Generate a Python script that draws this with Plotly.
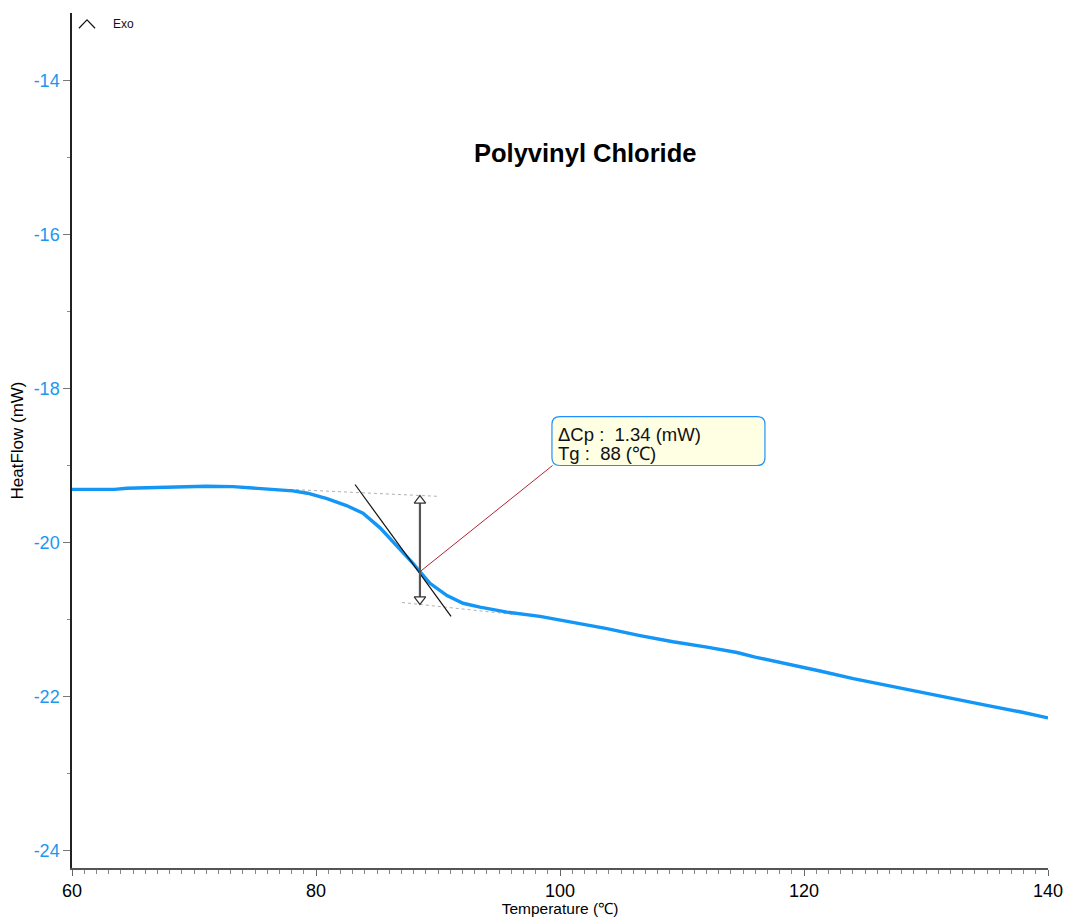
import plotly.graph_objects as go

# ---- data ----
temperature = [60, 63.5, 64.5, 66, 68.3, 71, 73.2, 75.4, 78.1, 79.3, 80.9, 82.5, 83.85,
               85.25, 86.64, 87.95, 88.52, 89.34, 90.74, 92.05, 93.44, 95.66, 98.36,
               101.07, 103.85, 106.56, 109.26, 112.05, 114.51, 116, 118.58, 121.31,
               124.04, 126.78, 129.51, 132.24, 134.98, 137.7, 140]
heatflow = [-19.31, -19.31, -19.295, -19.29, -19.28, -19.27, -19.275, -19.30, -19.33,
            -19.36, -19.43, -19.52, -19.62, -19.81, -20.04, -20.27, -20.38, -20.53,
            -20.69, -20.79, -20.84, -20.905, -20.96, -21.035, -21.12, -21.21, -21.29,
            -21.36, -21.43, -21.49, -21.575, -21.67, -21.77, -21.857, -21.944, -22.04,
            -22.117, -22.2, -22.28]

# analysis construction (data units)
tangent_x = [83.2, 91.07]
tangent_y = [-19.247, -20.96]
upper_base_x = [77.87, 89.92]
upper_base_y = [-19.31, -19.40]
lower_base_x = [87.05, 96.15]
lower_base_y = [-20.78, -20.935]
tg_x = 88.52
tg_y = -20.38
step_top = -19.455
step_bottom = -20.74
delta_cp = 1.34
tg_value = 88
box_x = [99.34, 116.8]
box_y = [-19.0, -18.364]
result_lines = [f"ΔCp :  {delta_cp:.2f} (mW)", f"Tg :  {tg_value} (℃)"]
result_line_y = [-18.60, -18.845]

x_ticks = list(range(60, 141, 5))
x_labels = [str(v) if v % 20 == 0 else "" for v in x_ticks]
y_ticks = [-24, -22, -20, -18, -16, -14]
y_labels = ["-24", "-22", "-20", "-18", "-16", "-14"]

FONT = "Arial, Liberation Sans, sans-serif"
BLUE = "#1396F5"

fig = go.Figure()

# dotted baselines
for bx, by in [(upper_base_x, upper_base_y), (lower_base_x, lower_base_y)]:
    fig.add_trace(go.Scatter(x=bx, y=by, mode="lines",
                             line=dict(color="#b0b0b0", width=1, dash="dot"),
                             hoverinfo="skip", showlegend=False))

# main curve
fig.add_trace(go.Scatter(x=temperature, y=heatflow, mode="lines",
                         line=dict(color=BLUE, width=3.4),
                         showlegend=False))

# tangent line
fig.add_trace(go.Scatter(x=tangent_x, y=tangent_y, mode="lines",
                         line=dict(color="#111111", width=1.2),
                         hoverinfo="skip", showlegend=False))

# step arrow
fig.add_trace(go.Scatter(x=[tg_x, tg_x], y=[step_top, step_bottom], mode="lines",
                         line=dict(color="#555555", width=2.2),
                         hoverinfo="skip", showlegend=False))
fig.add_trace(go.Scatter(x=[tg_x, tg_x], y=[step_top, step_bottom], mode="markers",
                         marker=dict(symbol=["triangle-up", "triangle-down"], size=10,
                                     color="white", line=dict(color="#333333", width=1.2)),
                         hoverinfo="skip", showlegend=False))

# leader line to the result box
fig.add_trace(go.Scatter(x=[tg_x, box_x[0] + 0.05], y=[tg_y, box_y[0]], mode="lines",
                         line=dict(color="#B22234", width=1),
                         hoverinfo="skip", showlegend=False))

# rounded result box
rx, ry = 0.65, 0.1
x0, x1 = box_x
yb, yt = box_y
path = (f"M {x0+rx},{yt} L {x1-rx},{yt} Q {x1},{yt} {x1},{yt-ry} "
        f"L {x1},{yb+ry} Q {x1},{yb} {x1-rx},{yb} L {x0+rx},{yb} "
        f"Q {x0},{yb} {x0},{yb+ry} L {x0},{yt-ry} Q {x0},{yt} {x0+rx},{yt} Z")
fig.add_shape(type="path", path=path, xref="x", yref="y",
              fillcolor="#FFFFE4", line=dict(color="#1E90FF", width=1.2))
for txt, ty in zip(result_lines, result_line_y):
    fig.add_annotation(x=x0 + 0.35, y=ty, xref="x", yref="y", text=txt,
                       showarrow=False, xanchor="left", yanchor="middle", align="left",
                       font=dict(family=FONT, size=18.5, color="#111111"))

# title
fig.add_annotation(x=102.05, y=-14.935, xref="x", yref="y", text="<b>Polyvinyl Chloride</b>",
                   showarrow=False, font=dict(family=FONT, size=25.5, color="#000000"))

# Exo indicator
fig.add_shape(type="path", path="M 60.57,-13.318 L 61.23,-13.21 L 61.89,-13.318",
              xref="x", yref="y", line=dict(color="#111111", width=1.2))
fig.add_annotation(x=64.18, y=-13.26, xref="x", yref="y", text="Exo", showarrow=False,
                   font=dict(family=FONT, size=12, color="#111111"), xanchor="center")

fig.update_layout(
    width=1068, height=917,
    margin=dict(l=72, r=20, t=13, b=49, autoexpand=False),
    plot_bgcolor="white", paper_bgcolor="white",
    font=dict(family=FONT, color="#000000"),
    showlegend=False,
)
fig.update_xaxes(
    range=[60, 140], showgrid=False, zeroline=False, automargin=False,
    showline=True, linecolor="#555555", linewidth=1.5,
    tickmode="array", tickvals=x_ticks, ticktext=x_labels,
    ticks="outside", ticklen=6, tickcolor="#666666", tickwidth=1,
    tickfont=dict(family=FONT, size=18, color="#000000"),
    minor=dict(tickmode="array", tickvals=list(range(60, 141)), ticks="outside",
               ticklen=4, tickcolor="#888888", tickwidth=1, showgrid=False),
    title=dict(text="Temperature (℃)", font=dict(family=FONT, size=15.5, color="#000000"),
               standoff=2),
)
fig.update_yaxes(
    range=[-24.23, -13.12], showgrid=False, zeroline=False, automargin=False,
    showline=True, linecolor="#222222", linewidth=1.5,
    tickmode="array", tickvals=y_ticks, ticktext=y_labels,
    ticks="outside", ticklen=7, tickcolor="#777777", tickwidth=1,
    tickfont=dict(family=FONT, size=18, color="#1E96F0"),
    minor=dict(tickmode="array", tickvals=[-23, -21, -19, -17, -15], ticks="outside",
               ticklen=3, tickcolor="#888888", tickwidth=1, showgrid=False),
    title=dict(text="HeatFlow (mW)", font=dict(family=FONT, size=17, color="#000000"),
               standoff=6),
)

fig.write_html("out.html", config={"displayModeBar": False},
               post_script="document.body.style.margin='0';document.body.style.overflow='hidden';")
